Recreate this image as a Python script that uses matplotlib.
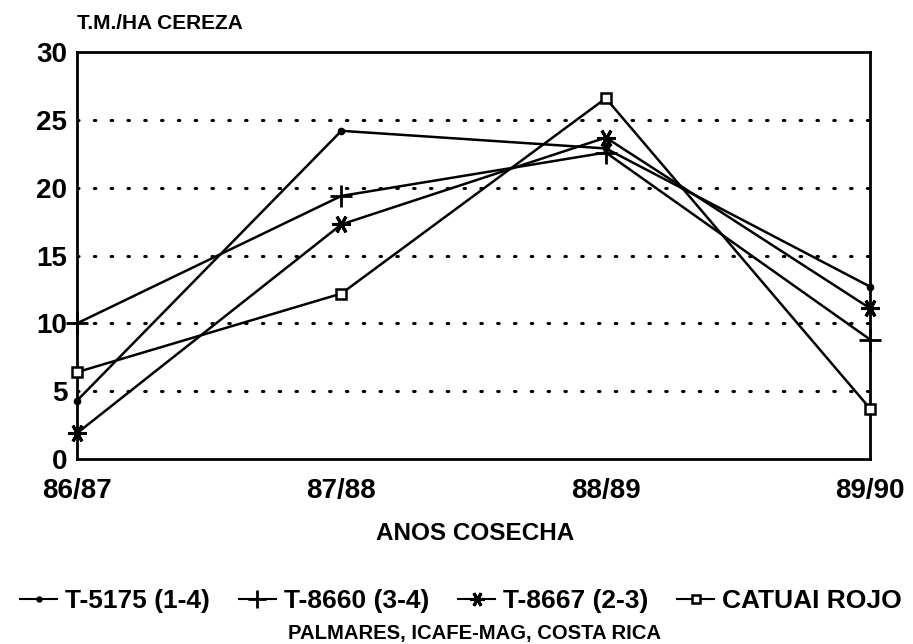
import matplotlib
matplotlib.use("Agg")
import matplotlib.pyplot as plt
from matplotlib.lines import Line2D

seasons = ["86/87", "87/88", "88/89", "89/90"]
t5175 = [4.3, 24.2, 22.9, 12.7]
t8660 = [10.0, 19.4, 22.6, 8.8]
t8667 = [1.9, 17.3, 23.7, 11.1]
catuai = [6.4, 12.2, 26.6, 3.7]
yticks = [0, 5, 10, 15, 20, 25, 30]
labels = ["T-5175 (1-4)", "T-8660 (3-4)", "T-8667 (2-3)", "CATUAI ROJO"]

plt.rcParams['font.family'] = ['Liberation Sans', 'DejaVu Sans']
plt.rcParams['font.weight'] = 'bold'

fig = plt.figure(figsize=(9.13, 6.44), dpi=100)
ax = fig.add_axes([0.0843, 0.2873, 0.8689, 0.6317])

x = list(range(len(seasons)))
lw = 1.8
asterisk = (6, 2, 90)
styles = [
    dict(marker='o', markersize=4.5, color='black'),
    dict(marker='+', markersize=16, markeredgewidth=2, color='black'),
    dict(marker=asterisk, markersize=13, markeredgewidth=2.2, color='black'),
    dict(marker='s', markersize=7.5, markerfacecolor='white', markeredgewidth=1.8, color='black'),
]
series = [t5175, t8660, t8667, catuai]
for vals, st in zip(series, styles):
    ax.plot(x, vals, linewidth=lw, clip_on=False, zorder=3, **st)

for yv in yticks[1:-1]:
    ax.axhline(yv, color='black', linestyle=(0, (0.5, 5)), linewidth=2.2,
               dash_capstyle='round', zorder=1)

ax.set_xlim(0, 3)
ax.set_ylim(0, 30)
ax.set_xticks(x)
ax.set_xticklabels(seasons, fontsize=20, fontweight='bold')
ax.set_yticks(yticks)
ax.set_yticklabels([str(v) for v in yticks], fontsize=20, fontweight='bold')
ax.tick_params(length=0)
ax.tick_params(axis='x', pad=14)
ax.tick_params(axis='y', pad=7)
for sp in ax.spines.values():
    sp.set_linewidth(2)

fig.text(0.084, 0.964, "T.M./HA CEREZA", fontsize=15, fontweight='bold', ha='left', va='center')
fig.text(0.52, 0.172, "ANOS COSECHA", fontsize=17.5, fontweight='bold', ha='center', va='center')
fig.text(0.52, 0.017, "PALMARES, ICAFE-MAG, COSTA RICA", fontsize=14.6, fontweight='bold',
         ha='center', va='center')

handles = [Line2D([], [], linewidth=1.5, **{**st, 'markersize': st['markersize'] * 0.8}) for st in styles]
fig.legend(handles, labels, loc='center', bbox_to_anchor=(0.505, 0.066), ncol=4, frameon=False,
           prop={'size': 19, 'weight': 'bold'}, handlelength=1.4, handletextpad=0.3,
           columnspacing=1.1)

fig.savefig("out.png", dpi=100)
